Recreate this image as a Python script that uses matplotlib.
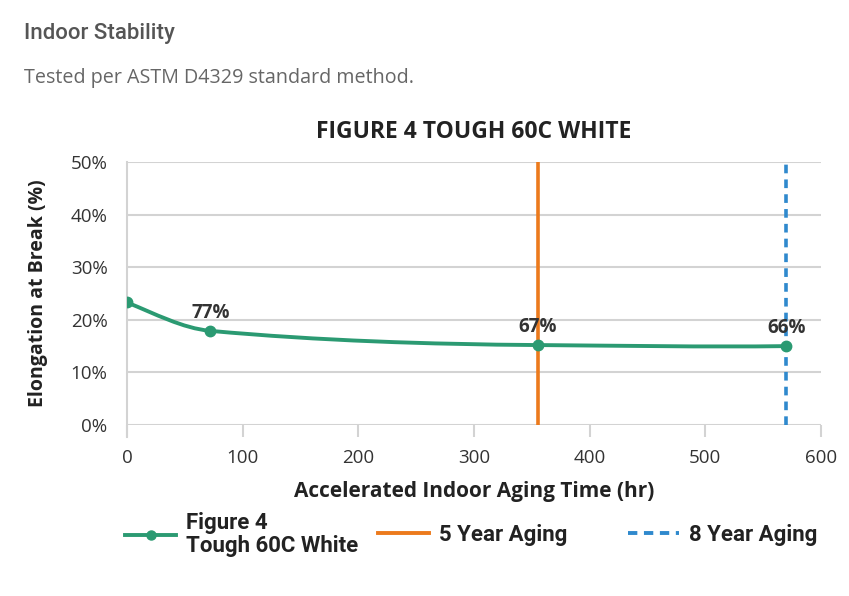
import numpy as np
import matplotlib
matplotlib.use('Agg')
import matplotlib.pyplot as plt
from matplotlib.path import Path
from matplotlib.patches import PathPatch
from matplotlib.lines import Line2D

plt.rcParams['font.family'] = ['Open Sans', 'DejaVu Sans']

# data
hours = [0, 72, 355, 570]
elongation = [23.3, 17.9, 15.2, 15.0]
point_labels = ['', '77%', '67%', '66%']
five_year = 355
eight_year = 570
yticks = [0, 10, 20, 30, 40, 50]
xticks = [0, 100, 200, 300, 400, 500, 600]

green = '#2b9a72'
orange = '#ec7a1c'
blue = '#2f89cd'
grid = '#d3d3d3'
narrow = ['Roboto', 'DejaVu Sans']
dash = (0, (2.4, 1.7))


def smooth_path(x, y):
    # monotone cubic tangents -> bezier segments (for drawing only)
    x = np.asarray(x, float)
    y = np.asarray(y, float)
    h = np.diff(x)
    d = np.diff(y) / h
    m = np.zeros_like(y)
    for i in range(1, len(x) - 1):
        if d[i - 1] * d[i] > 0:
            w1 = 2 * h[i] + h[i - 1]
            w2 = h[i] + 2 * h[i - 1]
            m[i] = (w1 + w2) / (w1 / d[i - 1] + w2 / d[i])
    m[0] = ((2 * h[0] + h[1]) * d[0] - h[0] * d[1]) / (h[0] + h[1])
    m[-1] = ((2 * h[-1] + h[-2]) * d[-1] - h[-1] * d[-2]) / (h[-1] + h[-2])
    verts = [(x[0], y[0])]
    codes = [Path.MOVETO]
    for i in range(len(x) - 1):
        verts += [(x[i] + h[i] / 3, y[i] + m[i] * h[i] / 3),
                  (x[i + 1] - h[i] / 3, y[i + 1] - m[i + 1] * h[i] / 3),
                  (x[i + 1], y[i + 1])]
        codes += [Path.CURVE4] * 3
    return Path(verts, codes)


fig = plt.figure(figsize=(8.49, 5.96), dpi=100)
ax = fig.add_axes([0.1496, 0.2869, 0.8174, 0.4413])

for t in yticks:
    ax.axhline(t, color=grid, lw=1.5, zorder=1)

ax.axvline(five_year, color=orange, lw=2.6, zorder=2)
ax.axvline(eight_year, color=blue, lw=2.6, ls=dash, zorder=2)

ax.add_patch(PathPatch(smooth_path(hours, elongation), fill=False,
                       edgecolor=green, lw=2.8, capstyle='round', zorder=3))
ax.plot(hours, elongation, 'o', color=green, ms=7.5, zorder=4)

for x, y, lab in zip(hours, elongation, point_labels):
    if lab:
        ax.annotate(lab, (x, y), xytext=(0, 6), textcoords='offset points',
                    ha='center', va='bottom', fontsize=13.5,
                    fontweight='bold', color='#333333', zorder=5)

ax.set_xlim(0, 600)
ax.set_ylim(0, 50)
ax.set_xticks(xticks)
ax.set_yticks(yticks)
ax.set_yticklabels([f'{t}%' for t in yticks])
ax.tick_params(axis='x', length=8.5, width=1.5, color=grid, labelsize=13.5,
               labelcolor='#333333', pad=9)
ax.tick_params(axis='y', length=0, labelsize=13.5, labelcolor='#333333', pad=14)
for s in ['top', 'right', 'bottom']:
    ax.spines[s].set_visible(False)
ax.spines['left'].set_color(grid)
ax.spines['left'].set_linewidth(1.5)
ax.spines['left'].set_bounds(-2.2, 50)

ax.set_xlabel('Accelerated Indoor Aging Time (hr)', fontsize=15,
              fontweight='bold', color='#222222', labelpad=10)
ax.set_ylabel('Elongation at Break (%)', fontsize=14,
              fontweight='bold', color='#222222', labelpad=16)
ax.set_title('FIGURE 4 TOUGH 60C WHITE', fontsize=16.5, fontweight='bold',
             color='#222222', pad=17)

fig.text(0.028, 0.944, 'Indoor Stability', fontsize=16, color='#555555',
         family=narrow, fontweight='medium', va='center')
fig.text(0.028, 0.869, 'Tested per ASTM D4329 standard method.', fontsize=14.2,
         color='#666666', va='center')

handles = [Line2D([], [], color=green, lw=2.8, marker='o', ms=6.5),
           Line2D([], [], color=orange, lw=2.8),
           Line2D([], [], color=blue, lw=2.8, ls=dash)]
labels = ['Figure 4\nTough 60C White', '5 Year Aging', '8 Year Aging']
lefts = [125, 378, 628]
for h, lab, lx in zip(handles, labels, lefts):
    leg = fig.legend([h], [lab], loc='center left',
                     bbox_to_anchor=(lx / 849, 0.103), frameon=False,
                     borderpad=0, borderaxespad=0, handlelength=2.3,
                     handletextpad=0.45,
                     prop={'family': narrow, 'size': 16, 'weight': 'bold'})
    leg.get_texts()[0].set_color('#222222')
    leg.get_texts()[0].set_linespacing(1.1)

fig.savefig('out.png', dpi=100)
